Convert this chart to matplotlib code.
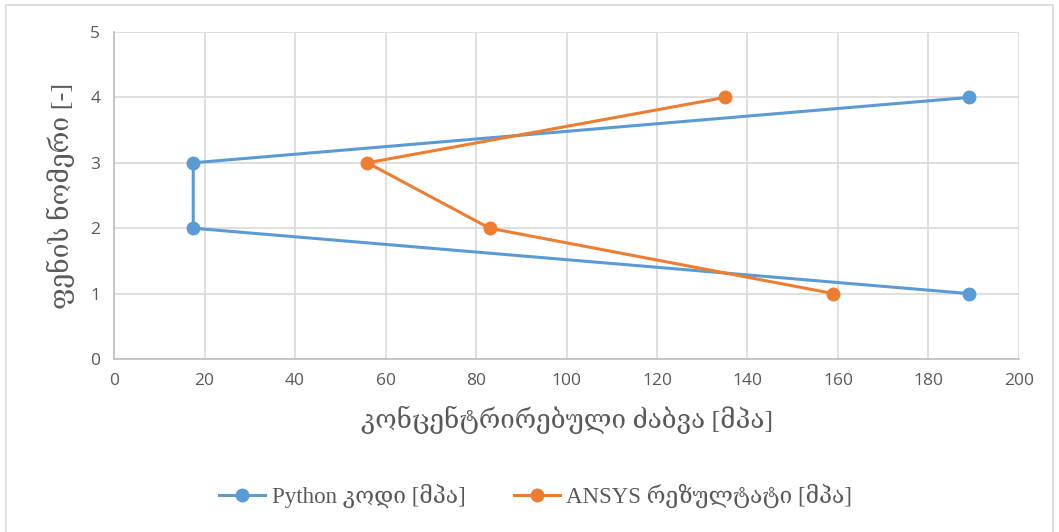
import matplotlib.pyplot as plt
from matplotlib.patches import Rectangle

# data
python_x = [189, 17.5, 17.5, 189]
python_y = [1, 2, 3, 4]
ansys_x = [159, 83, 56, 135]
ansys_y = [1, 2, 3, 4]
xticks = [0, 20, 40, 60, 80, 100, 120, 140, 160, 180, 200]
yticks = [0, 1, 2, 3, 4, 5]

serif = ['Liberation Serif', 'DejaVu Serif']
sans = ['Open Sans', 'DejaVu Sans']
gray = '#595959'

fig = plt.figure(figsize=(10.59, 5.32), dpi=100)
fig.patches.append(Rectangle((0.006, -0.01), 0.988, 1.0, transform=fig.transFigure,
                             fill=False, edgecolor='#D9D9D9', linewidth=1.2))
ax = fig.add_axes([0.1077, 0.3252, 0.8545, 0.6146])

ax.plot(python_x, python_y, color='#5B9BD5', lw=2.2, marker='o', markersize=9,
        label='Python კოდი [მპა]', zorder=3)
ax.plot(ansys_x, ansys_y, color='#ED7D31', lw=2.2, marker='o', markersize=9,
        label='ANSYS რეზულტატი [მპა]', zorder=4)

ax.set_xlim(0, 200)
ax.set_ylim(0, 5)
ax.set_xticks(xticks)
ax.set_yticks(yticks)
ax.grid(True, color='#D9D9D9', linewidth=1.2)
ax.set_axisbelow(True)
for s in ['top', 'right']:
    ax.spines[s].set_visible(False)
for s in ['left', 'bottom']:
    ax.spines[s].set_color('#BFBFBF')
    ax.spines[s].set_linewidth(1.2)
ax.tick_params(length=0, pad=10, labelsize=12.5, labelcolor=gray)
for lab in ax.get_xticklabels() + ax.get_yticklabels():
    lab.set_family(sans)

ax.set_xlabel('კონცენტრირებული ძაბვა [მპა]', family=serif, fontsize=18.7, color=gray, labelpad=12)
ax.set_ylabel('ფენის ნომერი [-]', family=serif, fontsize=19, color=gray, labelpad=11)

leg = fig.legend(loc='center', bbox_to_anchor=(0.506, 0.068), ncol=2, frameon=False,
                 prop={'family': serif, 'size': 16.5}, columnspacing=2.1,
                 handlelength=2.0, handletextpad=0.3)
for t in leg.get_texts():
    t.set_color(gray)

fig.savefig('out.png', dpi=100)
